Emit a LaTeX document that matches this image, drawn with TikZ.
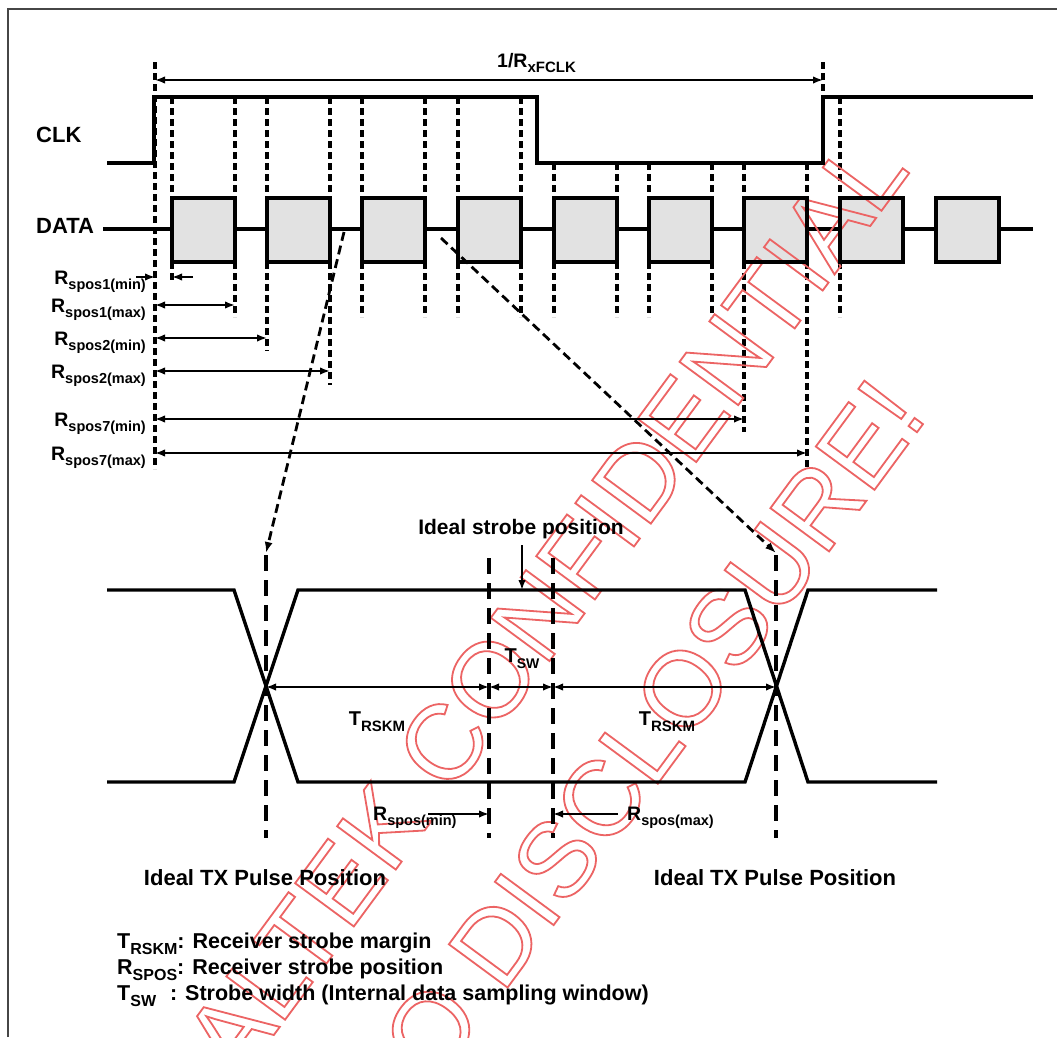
\documentclass[tikz,border=0pt]{standalone}
\usepackage{fontspec}
\setmainfont{Liberation Sans}
\usetikzlibrary{arrows.meta}
\newcommand\fsz[1]{\fontsize{#1}{#1}\selectfont}
\newcommand\sbs[2]{\raisebox{-0.3em}{\fsz{#1}#2}}
\newcommand\outlineon{\special{pdf:literal direct 1 Tr 1.8 w}}
\newcommand\outlineoff{\special{pdf:literal direct 0 Tr}}
\definecolor{boxgray}{RGB}{226,226,226}
\definecolor{wmred}{RGB}{236,100,100}
\definecolor{framegray}{RGB}{70,70,70}
\begin{document}
\begin{tikzpicture}[x=1pt,y=-1pt,
  wave/.style={line width=3.4pt},
  vdash/.style={line width=3.2pt, dash pattern=on 7pt off 4pt},
  ldash/.style={line width=3.2pt, dash pattern=on 16pt off 9pt},
  ddash/.style={line width=2.8pt, dash pattern=on 9pt off 5pt, -{Latex[length=11pt,width=8pt]}},
  dimarr/.style={line width=1.8pt, {Latex[length=10pt,width=7.5pt]}-{Latex[length=10pt,width=7.5pt]}},
  onearr/.style={line width=1.8pt, -{Latex[length=10pt,width=7.5pt]}},
  lbl/.style={inner sep=0pt, font=\bfseries\fsz{19.5}},
  biglbl/.style={inner sep=0pt, font=\bfseries\fsz{21.5}},
  wm/.style={inner sep=0pt, align=center, rotate=53.6, font={\fontsize{106}{160}\selectfont}},
  boxfill/.style={fill=boxgray, minimum width=63pt, minimum height=64pt, inner sep=0pt},
  boxline/.style={draw, line width=3.4pt, minimum width=63pt, minimum height=64pt, inner sep=0pt},
]
% page
\fill[white] (0,0) rectangle (1057,1037);
\useasboundingbox (0,0) rectangle (1057,1037);

% frame
\draw[framegray, line width=1.5pt] (8,1037) -- (8,9) -- (1057,9);

% ---------- upper timing ----------
\coordinate (p0) at (155,62);
\coordinate (p0b) at (155,469);
\coordinate (q0) at (823,62);
\coordinate (q0b) at (823,100);
\draw[vdash] (p0) -- (p0b);
\draw[vdash] (q0) -- (q0b);
\foreach \x/\t/\e [count=\i] in {172/97/283, 235/97/317, 267/97/351, 330/97/385, 362/97/317,
   425/97/317, 458/97/317, 521/97/317, 554/163/317, 617/163/317, 649/163/317, 712/163/317,
   744/163/432, 807/163/468, 840/97/317}
{
  \coordinate (e\i t) at (\x,\t);
  \coordinate (e\i b) at (\x,\e);
  \draw[vdash] (e\i t) -- (e\i b);
}

% DATA line and box fills
\coordinate (ds) at (103,229);
\coordinate (de) at (1033,229);
\draw[wave] (ds) -- (de);
\foreach \x [count=\i] in {172,267,362,458,554,649,744,840,936}
  \node[boxfill] (bf\i) at (\x+31.5,230) {};

% watermark (outlined text)
\coordinate (wmc) at (566,712);
\node[wm, text=wmred] (wmt) at (wmc) {\outlineon REALTEK CONFIDENTIAL\\NO DISCLOSURE!\outlineoff};

% box outlines
\foreach \x [count=\i] in {172,267,362,458,554,649,744,840,936}
  \node[boxline] (b\i) at (\x+31.5,230) {};

% CLK
\draw[wave] (107,163) -- (154,163) -- (154,97) -- (537,97) -- (537,163) -- (823,163) -- (823,97) -- (1033,97);

\node[biglbl, font=\bfseries\fsz{22}, anchor=base west] (clk) at (36,142) {CLK};
\node[biglbl, font=\bfseries\fsz{22}, anchor=base west] (data) at (36,233) {DATA};

% period
\coordinate (perA) at (155,80);
\coordinate (perB) at (823,80);
\draw[dimarr] (perA) -- (perB);
\node[lbl, anchor=base west] (per) at (497,67) {1/R\sbs{15}{xFCLK}};

% Rspos rows
\node[lbl, anchor=base east] (r1n) at (146,284) {R\sbs{14.5}{spos1(min)}};
\node[lbl, anchor=base east] (r1x) at (146,312) {R\sbs{14.5}{spos1(max)}};
\node[lbl, anchor=base east] (r2n) at (146,345) {R\sbs{14.5}{spos2(min)}};
\node[lbl, anchor=base east] (r2x) at (146,378) {R\sbs{14.5}{spos2(max)}};
\node[lbl, anchor=base east] (r7n) at (146,426) {R\sbs{14.5}{spos7(min)}};
\node[lbl, anchor=base east] (r7x) at (146,460) {R\sbs{14.5}{spos7(max)}};

\coordinate (a1s) at (136,277);
\coordinate (a1e) at (155,277);
\coordinate (a2s) at (193,277);
\coordinate (a2e) at (172,277);
\draw[onearr] (a1s) -- (a1e);
\draw[onearr] (a2s) -- (a2e);
\draw[dimarr] (155,305) -- (e2b |- 0,305);
\draw[dimarr] (155,338) -- (e3b |- 0,338);
\draw[dimarr] (155,371) -- (e4b |- 0,371);
\draw[dimarr] (155,419) -- (e13b |- 0,419);
\draw[dimarr] (155,453) -- (e14b |- 0,453);

% zoom lines
\coordinate (zl1) at (344,232);
\coordinate (zl2) at (266,553);
\coordinate (zr1) at (441,238);
\coordinate (zr2) at (776,553);
\draw[ddash] (zl1) -- (zl2);
\draw[ddash] (zr1) -- (zr2);

% ---------- lower eye diagram ----------
\draw[wave] (107,590) -- (234,590) -- (298,782) -- (745,782) -- (808,590) -- (937,590);
\draw[wave] (107,782) -- (234,782) -- (298,590) -- (745,590) -- (808,782) -- (937,782);

\coordinate (txl) at (266,555);
\coordinate (txlb) at (266,838);
\coordinate (txr) at (776,555);
\coordinate (txrb) at (776,838);
\coordinate (sa) at (489,558);
\coordinate (sab) at (489,838);
\coordinate (sb) at (553,558);
\coordinate (sbb) at (553,838);
\draw[ldash] (txl) -- (txlb);
\draw[ldash] (txr) -- (txrb);
\draw[ldash] (sa) -- (sab);
\draw[ldash] (sb) -- (sbb);

\node[biglbl, font=\bfseries\fsz{21}, anchor=base] (isp) at (521,534) {Ideal strobe position};
\coordinate (ispA) at (522,545);
\coordinate (ispB) at (522,590);
\draw[onearr] (ispA) -- (ispB);

\coordinate (m1) at (266,687);
\coordinate (m2) at (489,687);
\coordinate (m3) at (553,687);
\coordinate (m4) at (776,687);
\draw[dimarr] (m1) -- (m2);
\draw[dimarr] (m2) -- (m3);
\draw[dimarr] (m3) -- (m4);

\node[lbl, font=\bfseries\fsz{20}, anchor=base] (tsw) at (522,662) {T\sbs{14}{SW}};
\node[lbl, font=\bfseries\fsz{20}, anchor=base] (tr1) at (377,725) {T\sbs{15}{RSKM}};
\node[lbl, font=\bfseries\fsz{20}, anchor=base] (tr2) at (667,725) {T\sbs{15}{RSKM}};

\node[lbl, anchor=base west] (rmin) at (373,820) {R\sbs{14.5}{spos(min)}};
\node[lbl, anchor=base west] (rmax) at (627,820) {R\sbs{14.5}{spos(max)}};
\coordinate (rminA) at (428,814);
\coordinate (rminB) at (489,814);
\coordinate (rmaxA) at (618,814);
\coordinate (rmaxB) at (553,814);
\draw[onearr] (rminA) -- (rminB);
\draw[onearr] (rmaxA) -- (rmaxB);

\node[biglbl, font=\bfseries\fsz{22}, anchor=base] (itx1) at (265,885) {Ideal TX Pulse Position};
\node[biglbl, font=\bfseries\fsz{22}, anchor=base] (itx2) at (775,885) {Ideal TX Pulse Position};

% legend
\node[biglbl, anchor=base west] (lg1) at (117,948) {T\sbs{16}{RSKM}: Receiver strobe margin};
\node[biglbl, anchor=base west] (lg2) at (117,974) {R\sbs{16}{SPOS}: Receiver strobe position};
\node[biglbl, anchor=base west] (lg3) at (117,1000) {T\sbs{16}{SW}\hspace{14pt}: Strobe width (Internal data sampling window)};
\end{tikzpicture}
\end{document}
